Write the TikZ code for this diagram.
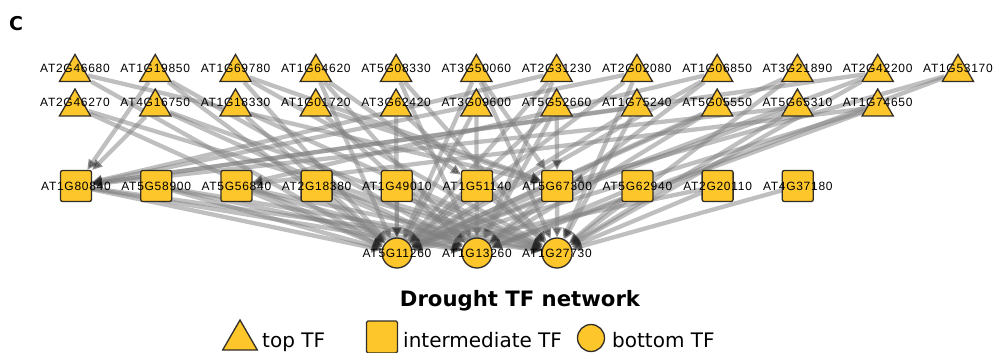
\documentclass[tikz,border=0pt]{standalone}
\usepackage{fontspec}
\setmainfont{DejaVu Sans}
\newfontfamily\labfont[LetterSpace=6]{Liberation Sans}
\usetikzlibrary{shapes.geometric,arrows.meta}
\definecolor{tfyellow}{RGB}{253,198,42}
\definecolor{tfborder}{RGB}{50,45,40}
\pgfdeclarelayer{bg}
\pgfsetlayers{bg,main}
\begin{document}
\begin{tikzpicture}[x=1pt,y=-1pt,
 tfnode/.style={fill=tfyellow,draw=tfborder,line width=1.3pt,inner sep=0pt},
 tri/.style={tfnode,regular polygon,regular polygon sides=3,minimum size=36pt},
 sq/.style={tfnode,rectangle,rounded corners=2pt,minimum size=31pt},
 circ/.style={tfnode,circle,minimum size=30pt},
 lab/.style={font=\labfont\fontsize{12}{12}\selectfont,inner sep=0pt},
 legtxt/.style={anchor=base west,font=\fontsize{20}{20}\selectfont,inner sep=0pt},
 edge/.style={draw=black!50,opacity=0.5,line width=4.3pt,-{Triangle[length=10pt,width=9.5pt,color=black!85]}}]
\useasboundingbox (0,0) rectangle (997,353);

% top row
\foreach \n [count=\i] in {AT2G46680,AT1G19850,AT1G69780,AT1G64620,AT5G08330,AT3G50060,AT2G31230,AT2G02080,AT1G06850,AT3G21890,AT2G42200,AT1G53170}{
  \pgfmathsetmacro{\xx}{75+80.27*(\i-1)}
  \node[tri] (t\i) at (\xx,72.5) {};
}
% second row
\foreach \n [count=\i] in {AT2G46270,AT4G16750,AT1G18330,AT1G01720,AT3G62420,AT3G09600,AT5G52660,AT1G75240,AT5G05550,AT5G65310,AT1G74650}{
  \pgfmathsetmacro{\xx}{75+80.27*(\i-1)}
  \node[tri] (u\i) at (\xx,107) {};
}
% intermediate row
\foreach \n [count=\i] in {AT1G80840,AT5G58900,AT5G56840,AT2G18380,AT1G49010,AT1G51140,AT5G67300,AT5G62940,AT2G20110,AT4G37180}{
  \pgfmathsetmacro{\xx}{76+80.2*(\i-1)}
  \node[sq] (s\i) at (\xx,186) {};
}
% bottom row
\foreach \n [count=\i] in {AT5G11260,AT1G13260,AT1G27730}{
  \pgfmathsetmacro{\xx}{397+80*(\i-1)}
  \node[circ] (c\i) at (\xx,253) {};
}

\begin{pgfonlayer}{bg}
\foreach \a/\b in {t1/s7,t1/c1,t2/s1,t2/c2,t2/c1,t3/c1,t3/c3,t3/s7,t4/c1,t4/c2,t4/s6,
  t5/c2,t5/c3,t6/c1,t6/c3,t6/s7,t7/c1,t7/c2,t7/s1,t8/c3,t8/s1,t8/c1,t9/c2,t9/c1,t9/s3,
  t10/c3,t10/c1,t11/c1,t11/c3,t11/s1,t12/c2,t12/s7,
  u1/c1,u1/c3,u2/s1,u2/c2,u2/c3,u3/c1,u3/c3,u4/c2,u4/s7,u5/c1,u5/c3,u6/c2,u6/c1,
  u7/s7,u7/c1,u7/c2,u8/c3,u8/c1,u8/s1,u9/c2,u9/c1,u10/s1,u10/c3,u10/c1,u11/c2,u11/s3,u11/c1,
  s1/c1,s1/c2,s1/c3,s2/c1,s2/c2,s2/c3,s3/c1,s3/c2,s3/c3,s4/c1,s4/c2,s4/c3,
  s5/c1,s5/c2,s5/c3,s6/c1,s6/c3,s7/c1,s7/c2,s7/c3,s8/c3,s8/c2,s9/c3,s9/c1,s10/c3}
  \draw[edge] (\a) -- (\b);
\end{pgfonlayer}

% labels
\foreach \n [count=\i] in {AT2G46680,AT1G19850,AT1G69780,AT1G64620,AT5G08330,AT3G50060,AT2G31230,AT2G02080,AT1G06850,AT3G21890,AT2G42200,AT1G53170}{
  \pgfmathsetmacro{\xx}{75+80.27*(\i-1)}
  \node[lab] (t\i l) at (\xx,68) {\n};
}
\foreach \n [count=\i] in {AT2G46270,AT4G16750,AT1G18330,AT1G01720,AT3G62420,AT3G09600,AT5G52660,AT1G75240,AT5G05550,AT5G65310,AT1G74650}{
  \pgfmathsetmacro{\xx}{75+80.27*(\i-1)}
  \node[lab] (u\i l) at (\xx,102) {\n};
}
\foreach \n [count=\i] in {AT1G80840,AT5G58900,AT5G56840,AT2G18380,AT1G49010,AT1G51140,AT5G67300,AT5G62940,AT2G20110,AT4G37180}{
  \pgfmathsetmacro{\xx}{76+80.2*(\i-1)}
  \node[lab] (s\i l) at (\xx,186) {\n};
}
\foreach \n [count=\i] in {AT5G11260,AT1G13260,AT1G27730}{
  \pgfmathsetmacro{\xx}{397+80*(\i-1)}
  \node[lab] (c\i l) at (\xx,253) {\n};
}

% panel letter and title
\node[anchor=base west,font=\bfseries\fontsize{19}{19}\selectfont,inner sep=0pt] (panel) at (9,31) {C};
\node[anchor=base,font=\bfseries\fontsize{21.2}{21}\selectfont,inner sep=0pt] (title) at (520,306) {Drought TF network};

% legend
\node[tfnode,regular polygon,regular polygon sides=3,minimum size=40pt] (legtri) at (240,340) {};
\node[legtxt] (legtritxt) at (262,347) {top TF};
\node[tfnode,rectangle,rounded corners=1.5pt,minimum width=31pt,minimum height=32pt] (legsq) at (382,337) {};
\node[legtxt] (legsqtxt) at (403,347) {intermediate TF};
\node[tfnode,circle,minimum size=27pt] (legcirc) at (591,338) {};
\node[legtxt] (legcirctxt) at (612,347) {bottom TF};
\end{tikzpicture}
\end{document}
